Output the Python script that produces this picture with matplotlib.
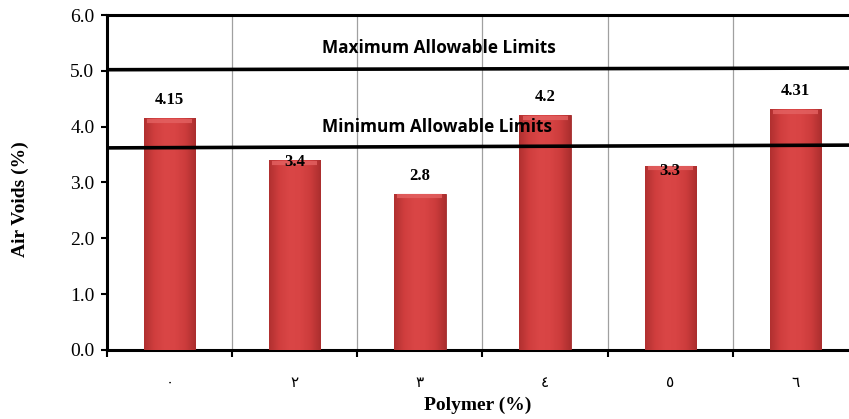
import numpy as np
import matplotlib.pyplot as plt
from matplotlib.colors import LinearSegmentedColormap

# Air voids for each polymer content
polymer_labels = ['٠', '٢', '٣', '٤', '٥', '٦']
air_voids = [4.15, 3.4, 2.8, 4.2, 3.3, 4.31]
value_labels = ['4.15', '3.4', '2.8', '4.2', '3.3', '4.31']

# Specification limits (left end, right end)
max_limit = [5.02, 5.05]
min_limit = [3.62, 3.67]

serif = ['Liberation Serif', 'DejaVu Serif']


def main():
    fig = plt.figure(figsize=(8.49, 4.19), dpi=100)
    ax = fig.add_axes([0.126, 0.1647, 0.8846, 0.7995])

    x = np.arange(len(air_voids))
    width = 0.41
    bars = ax.bar(x, air_voids, width=width, color='#d64242',
                  edgecolor='#a02c2c', linewidth=0.6, zorder=3)

    # Shade each bar with a soft horizontal gradient
    cmap = LinearSegmentedColormap.from_list(
        'barshade', ['#b03030', '#d03e3e', '#da4646', '#d84444', '#cc3c3c', '#aa2e2e'])
    grad = np.linspace(0, 1, 256).reshape(1, -1)
    for b in bars:
        bx, by = b.get_x(), b.get_y()
        im = ax.imshow(grad, cmap=cmap, aspect='auto', zorder=3.5,
                       extent=[bx, bx + b.get_width(), by, by + b.get_height()])
        im.set_clip_path(b)
        ax.plot([bx + 0.025, bx + b.get_width() - 0.025],
                [b.get_height() - 0.045] * 2, color='#e46262', lw=3,
                alpha=0.8, zorder=3.6, solid_capstyle='butt')

    # Value labels; the two short bars carry theirs on the bar top
    label_y = [4.48, 3.37, 3.12, 4.53, 3.21, 4.64]
    for xi, ly, lab in zip(x, label_y, value_labels):
        ax.text(xi, ly, lab, ha='center', va='center', fontsize=12,
                fontweight='bold', family=serif, zorder=6)

    # Limit lines
    xs = [-0.5, len(air_voids) - 0.5]
    ax.plot(xs, max_limit, color='black', lw=2.6, zorder=5)
    ax.plot(xs, min_limit, color='black', lw=2.6, zorder=5)
    ax.text(2.15, 5.41, 'Maximum Allowable Limits', ha='center', va='center',
            fontsize=12.4, fontweight='bold', family=['Open Sans', 'DejaVu Sans'], zorder=6)
    ax.text(2.14, 4.0, 'Minimum Allowable Limits', ha='center', va='center',
            fontsize=12.4, fontweight='bold', family=['Open Sans', 'DejaVu Sans'], zorder=6)

    ax.set_xlim(-0.5, len(air_voids) - 0.5)
    ax.set_ylim(0, 6)
    yt = np.arange(0, 6.01, 1.0)
    ax.set_yticks(yt)
    ax.set_yticklabels([f'{t:.1f}' for t in yt], family=serif, fontsize=14)

    ax.set_xticks(x)
    ax.set_xticklabels(polymer_labels, family=['DejaVu Sans'], fontsize=11)
    ax.tick_params(axis='x', which='major', length=0, pad=18)
    ax.set_xticks(np.arange(-0.5, len(air_voids), 1.0), minor=True)
    ax.tick_params(axis='x', which='minor', length=5, width=1.5, direction='out')
    ax.tick_params(axis='y', length=4, width=1.5, direction='out', pad=5)
    ax.grid(axis='x', which='minor', color='#a0a0a0', lw=0.9, zorder=0)

    for side in ['left', 'bottom', 'top']:
        ax.spines[side].set_linewidth(2.2)
    ax.spines['right'].set_visible(False)

    ax.set_xlabel('Polymer (%)', family=serif, fontweight='bold', fontsize=14, va='center')
    ax.xaxis.set_label_coords(0.494, -0.164)
    ax.set_ylabel('Air Voids (%)', family=serif, fontweight='bold', fontsize=14, va='center')
    ax.yaxis.set_label_coords(-0.116, 0.45)

    fig.savefig('out.png', dpi=100)


if __name__ == '__main__':
    main()
